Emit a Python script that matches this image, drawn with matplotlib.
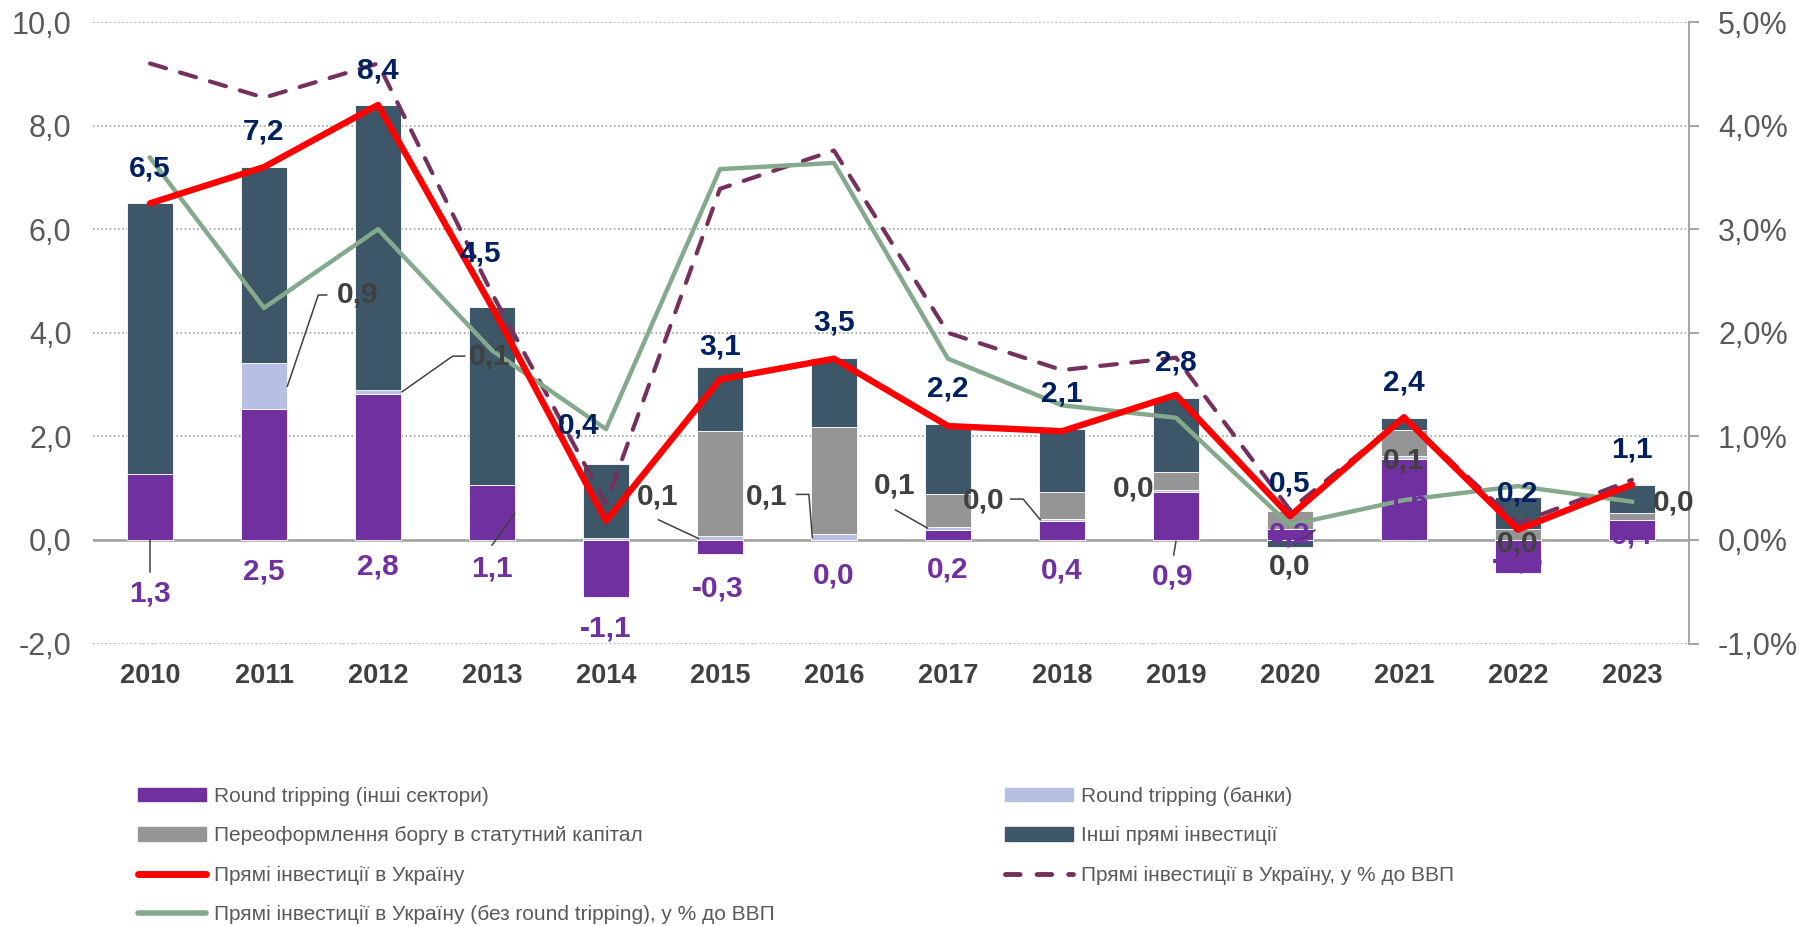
import numpy as np
import matplotlib
matplotlib.use('Agg')
import matplotlib.pyplot as plt
from matplotlib.patches import Patch
from matplotlib.lines import Line2D
from matplotlib.ticker import FuncFormatter

plt.rcParams['font.family'] = ['Liberation Sans', 'DejaVu Sans']

# ---- data ----
years = [2010, 2011, 2012, 2013, 2014, 2015, 2016, 2017, 2018, 2019, 2020, 2021, 2022, 2023]
rt_other = [1.28, 2.53, 2.82, 1.06, -1.10, -0.27, 0.00, 0.19, 0.37, 0.92, 0.21, 1.56, -0.63, 0.39]
rt_banks = [0.00, 0.89, 0.08, 0.00, 0.03, 0.08, 0.12, 0.06, 0.04, 0.04, 0.01, 0.06, 0.00, 0.00]
debt_conv = [0.00, 0.00, 0.00, 0.00, 0.00, 2.03, 2.07, 0.64, 0.52, 0.36, 0.33, 0.50, 0.21, 0.14]
other_fdi = [5.22, 3.78, 5.49, 3.43, 1.44, 1.23, 1.33, 1.35, 1.21, 1.43, -0.13, 0.24, 0.62, 0.54]
fdi_total = [6.5, 7.2, 8.4, 4.5, 0.37, 3.1, 3.5, 2.2, 2.1, 2.8, 0.46, 2.37, 0.2, 1.07]
fdi_gdp = [4.60, 4.27, 4.60, 2.38, 0.35, 3.39, 3.76, 2.00, 1.64, 1.76, 0.29, 1.18, 0.16, 0.58]
fdi_gdp_ex_rt = [3.69, 2.24, 3.00, 1.83, 1.07, 3.58, 3.64, 1.75, 1.30, 1.18, 0.145, 0.385, 0.52, 0.37]

names = ['Round tripping (інші сектори)', 'Round tripping (банки)',
         'Переоформлення боргу в статутний капітал', 'Інші прямі інвестиції',
         'Прямі інвестиції в Україну', 'Прямі інвестиції в Україну, у % до ВВП',
         'Прямі інвестиції в Україну (без round tripping), у % до ВВП']

C_PURPLE = '#7030A0'
C_BANKS = '#B7BFE2'
C_DEBT = '#959595'
C_OTHER = '#3D5668'
C_RED = '#FF0000'
C_DASH = '#76305E'
C_GREEN = '#84A98C'
C_NAVY = '#002060'
C_DARK = '#404040'
C_TICK = '#595959'

# label placement (dx from bar centre, y in left-axis units)
tot_adj = {3: (-0.1, 1.05), 4: (-0.24, 0.74), 5: (0, 0.40), 10: (0, 0.55), 12: (0, 0.07)}
rt_lbl = {0: (0, -1.03), 1: (0, -0.61), 2: (0, -0.52), 3: (0, -0.55), 4: (0, -1.70),
          5: (-0.02, -0.94), 6: (0, -0.68), 7: (0, -0.57), 8: (0, -0.58), 9: (-0.03, -0.71),
          10: (0, 0.10), 11: (0.03, 0.77), 12: (0, -0.39), 13: (0, 0.08)}
bank_lbl = {1: (0.82, 4.73), 2: (0.98, 3.54), 5: (-0.55, 0.84), 6: (-0.59, 0.84),
            7: (-0.47, 1.06), 8: (-0.69, 0.77), 9: (-0.37, 1.00), 10: (0, -0.51),
            11: (0, 1.54), 12: (0, -0.06), 13: (0.37, 0.72)}
leaders = {
    0: [(0, 0), (0, -0.61)],
    3: [(0.2, 0.51), (0.0, -0.10)],
    9: [(0, -0.03), (-0.02, -0.29)],
    101: [(0.205, 2.97), (0.476, 4.73), (0.55, 4.73)],
    102: [(0.21, 2.86), (0.655, 3.55), (0.76, 3.55)],
    105: [(-0.19, 0.03), (-0.54, 0.39)],
    106: [(-0.19, 0.05), (-0.22, 0.88), (-0.33, 0.88)],
    107: [(-0.18, 0.23), (-0.46, 0.58)],
    108: [(-0.19, 0.39), (-0.34, 0.79), (-0.45, 0.79)],
    110: [(0.22, 0.19), (0.04, -0.10)],
}


def fmt(v):
    return f'{v:.1f}'.replace('.', ',')


fig = plt.figure(figsize=(18.1, 9.26), dpi=100)
ax = fig.add_axes([0.0514, 0.3050, 0.8817, 0.6712])
x = np.arange(len(years))

pos = np.zeros(len(x))
neg = np.zeros(len(x))
for vals, col in [(rt_other, C_PURPLE), (rt_banks, C_BANKS), (debt_conv, C_DEBT), (other_fdi, C_OTHER)]:
    v = np.array(vals)
    base = np.where(v >= 0, pos, neg)
    ax.bar(x, v, 0.4, bottom=base, color=col, edgecolor='white', linewidth=0.6, zorder=2)
    pos = pos + np.clip(v, 0, None)
    neg = neg + np.clip(v, None, 0)

ax.set_xlim(-0.5, 13.5)
ax.set_ylim(-2, 10)
ax.set_yticks(np.arange(-2, 10.1, 2))
ax.yaxis.set_major_formatter(FuncFormatter(lambda v, p: fmt(v)))
ax.yaxis.grid(True, linestyle=(0, (1, 1.5)), color='#A0A0A0', lw=1.2, zorder=0)
ax.axhline(0, color='#A0A0A0', lw=1.8, zorder=1)
ax.set_axisbelow(True)
for s in ax.spines.values():
    s.set_visible(False)
ax.set_xticks(x, labels=[str(y) for y in years])
ax.tick_params(axis='x', length=0, pad=14, labelsize=19.5, labelcolor=C_DARK)
for t in ax.get_xticklabels():
    t.set_fontweight('bold')
ax.tick_params(axis='y', length=0, pad=15.5, labelsize=22, labelcolor=C_TICK)

ax2 = ax.twinx()
ax2.set_ylim(-1, 5)
ax2.set_yticks(np.arange(-1, 5.1, 1))
ax2.yaxis.set_major_formatter(FuncFormatter(lambda v, p: fmt(v) + '%'))
for k, s in ax2.spines.items():
    s.set_visible(k == 'right')
ax2.spines['right'].set_color('#A6A6A6')
ax2.spines['right'].set_linewidth(1.5)
ax2.tick_params(axis='y', length=7, width=1.5, color='#A6A6A6', pad=14,
                labelsize=22, labelcolor=C_TICK)

ax2.plot(x, fdi_gdp, color=C_DASH, lw=3, dashes=(4, 3.5), dash_capstyle='round', zorder=3)
ax2.plot(x, fdi_gdp_ex_rt, color=C_GREEN, lw=3.2, zorder=4)
ax2.plot(x, fdi_total, color=C_RED, lw=4.6, zorder=5, solid_joinstyle='round',
         solid_capstyle='round', transform=ax.transData)
ax2.set_ylim(-1, 5)

# leader lines
for key, pts in leaders.items():
    i = key % 100
    ax2.plot([i + p[0] for p in pts], [p[1] for p in pts], color=C_DARK, lw=1.1,
             transform=ax.transData, zorder=6, clip_on=False)

kw = dict(ha='center', va='center', fontsize=21.5, fontweight='bold',
          transform=ax.transData, zorder=7, clip_on=False)
for i in x:
    dx, dy = tot_adj.get(i, (0, 0.68))
    ax2.text(i + dx, pos[i] + dy, fmt(fdi_total[i]), color=C_NAVY, **kw)
    dx, yy = rt_lbl[i]
    ax2.text(i + dx, yy, fmt(rt_other[i]), color=C_PURPLE, **kw)
    if i in bank_lbl:
        dx, yy = bank_lbl[i]
        ax2.text(i + dx, yy, fmt(rt_banks[i]), color=C_DARK, **kw)

# legend in two columns
h1 = [Patch(color=C_PURPLE), Patch(color=C_DEBT),
      Line2D([], [], color=C_RED, lw=5, solid_capstyle='round'),
      Line2D([], [], color=C_GREEN, lw=4, solid_capstyle='round')]
l1 = [names[0], names[2], names[4], names[6]]
h2 = [Patch(color=C_BANKS), Patch(color=C_OTHER),
      Line2D([], [], color=C_DASH, lw=3.5, dashes=(3, 3.5), dash_capstyle='round')]
l2 = [names[1], names[3], names[5]]
lkw = dict(loc='upper left', frameon=False, fontsize=15, handlelength=3.27,
           handleheight=0.6, handletextpad=0.38, labelspacing=0.97,
           borderpad=0, borderaxespad=0, labelcolor=C_TICK)
fig.legend(h1, l1, bbox_to_anchor=(138 / 1810, 1 - 787 / 926), **lkw)
fig.legend(h2, l2, bbox_to_anchor=(1005 / 1810, 1 - 787 / 926), **lkw)

fig.savefig('out.png', dpi=100)
